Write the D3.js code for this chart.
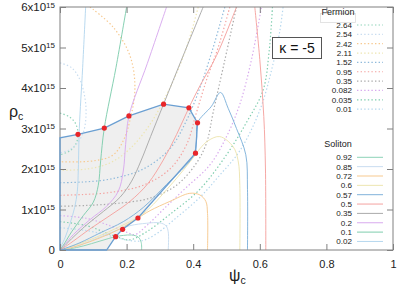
<!DOCTYPE html>
<html>
<head>
<meta charset="utf-8">
<style>
  body { margin: 0; background: #fff; }
  svg { display: block; font-family: "Liberation Sans", Arial, sans-serif; }
  .frame { fill: none; stroke: #808080; stroke-width: 1; }
  .axis path { display: none; }
  .axis line { stroke: #808080; }
  .axis text { fill: #222; }
  .key { font-size: 8.1px; fill: #222; }
</style>
</head>
<body>
<svg width="399" height="287"></svg>
<script src="https://cdn.jsdelivr.net/npm/d3@7"></script>
<script>
// rho values in units of 1e15
var xTicks = [0, 0.2, 0.4, 0.6, 0.8, 1];
var xTickLabels = ["0", "0.2", "0.4", "0.6", "0.8", "1"];
var yTicks = [0, 1, 2, 3, 4, 5, 6];

var palette = ["#8dd3b7", "#c9ddf0", "#f7c98f", "#ede5b0", "#8fbadb",
               "#f4a3a0", "#aaaaaa", "#d8aaee", "#7fcdae", "#b5d7ee"];

var fermionLabels = ["2.64", "2.54", "2.42", "2.11", "1.52", "0.95", "0.35", "0.082", "0.035", "0.01"];
var solitonLabels = ["0.92", "0.85", "0.72", "0.6", "0.57", "0.5", "0.35", "0.2", "0.1", "0.02"];

// fermion curves [psi, rho]
var f264 = [[0,3.38],[0.03,3.28],[0.048,3.1],[0.054,2.86],[0.048,2.62],[0.03,2.45],[0,2.35]];
var f254 = [[0,4.62],[0.035,4.5],[0.06,4.2],[0.075,3.75],[0.078,3.3],[0.07,2.9],[0.05,2.62],[0.025,2.46],[0,2.4]];
var f242 = [[0.09,6],[0.16,5.5],[0.21,4.8],[0.225,4.0],[0.21,3.2],[0.19,2.7],[0.16,2.35],[0.1,2.2],[0,2.18]];
var f211 = [[0.415,6],[0.38,5],[0.33,4],[0.27,3.1],[0.21,2.5],[0.15,2.15],[0.08,2.0],[0,1.97]];
var f152 = [[0.495,6],[0.46,5],[0.42,4],[0.38,3.2],[0.33,2.5],[0.25,2.0],[0.15,1.75],[0.07,1.68],[0,1.66]];
var f095 = [[0.51,6],[0.475,5],[0.44,4.2],[0.41,3.4],[0.38,2.6],[0.33,2.0],[0.25,1.6],[0.15,1.42],[0.07,1.37],[0,1.35]];
var f035 = [[0.53,6],[0.495,4.69],[0.46,3.4],[0.44,2.64],[0.41,2.15],[0.35,1.6],[0.27,1.28],[0.17,1.15],[0.08,1.1],[0,1.08]];
var f0082 = [[0,0.85],[0.08,0.78],[0.15,0.6],[0.2,0.44],[0.225,0.38],[0.26,0.6],[0.32,1.08],[0.38,1.55],[0.45,2.1],[0.5,2.8],[0.54,3.6],[0.575,4.7],[0.605,6]];
var f0035 = [[0,0.7],[0.08,0.6],[0.14,0.42],[0.18,0.3],[0.21,0.25],[0.26,0.45],[0.33,0.88],[0.42,1.5],[0.5,2.35],[0.56,3.15],[0.61,3.95],[0.628,4.9],[0.638,6]];
var f001 = [[0,0.55],[0.08,0.48],[0.15,0.35],[0.2,0.25],[0.24,0.22],[0.28,0.35],[0.35,0.8],[0.42,1.3],[0.48,1.85],[0.54,2.45],[0.6,3.45],[0.64,4.6],[0.66,5.4],[0.67,6]];

// soliton curves [psi, rho], null = break
var s092 = [[0.245,0],[0.244,0.18],[0.235,0.32],[0.215,0.37],[0.19,0.36],[0.167,0.33],[0.12,0.22],[0.07,0.1],[0.03,0.03],[0,0]];
var s085 = [[0.325,0],[0.325,0.45],[0.318,0.6],[0.3,0.67],[0.26,0.66],[0.21,0.6],[0.15,0.42],[0.09,0.22],[0.04,0.07],[0,0]];
var s072 = [[0.443,0],[0.443,0.9],[0.438,1.2],[0.42,1.36],[0.39,1.4],[0.33,1.2],[0.27,0.97],[0.234,0.79],[0.18,0.52],[0.12,0.3],[0.06,0.12],[0.015,0.02],[0,0]];
var s06 = [[0.54,0],[0.54,1.6],[0.535,2.2],[0.52,2.55],[0.48,2.8],[0.445,2.7],[0.42,2.5],[0.405,2.33],[0.33,1.58],[0.25,0.9],[0.18,0.58],[0.11,0.32],[0.05,0.13],[0.01,0.02],[0,0]];
var s057 = [[0.563,0],[0.563,1.5],[0.558,2.35],[0.53,3.0],[0.505,3.5],[0.482,3.89],[0.455,3.55],[0.413,3.14],[0.41,2.7],[0.4,2.32],[0.32,1.62],[0.25,1.05],[0.19,0.7],[0.12,0.42],[0.06,0.18],[0.015,0.04],[0,0.01]];
var s05 = [[0.53,6],[0.47,4.8],[0.42,4.05],[0.387,3.51],[0.35,2.85],[0.31,2.22],[0.265,1.65],[0.21,1.2],[0.15,0.85],[0.09,0.52],[0.04,0.22],[0.01,0.05],[0,0.01],
           null, [0.585,6],[0.6,4.7],[0.612,3.3],[0.617,2.0],[0.618,0]];
var s035 = [[0.43,6],[0.37,4.8],[0.311,3.6],[0.272,2.8],[0.243,2.2],[0.215,1.7],[0.18,1.3],[0.13,0.95],[0.08,0.62],[0.035,0.28],[0.01,0.07],[0,0.01]];
var s02 = [[0.32,6],[0.262,4.6],[0.207,3.31],[0.197,2.6],[0.19,1.95],[0.175,1.45],[0.14,1.08],[0.09,0.75],[0.04,0.38],[0.01,0.1],[0,0.02]];
var s01 = [[0.2,6],[0.168,4.5],[0.133,3.01],[0.122,2.2],[0.115,1.6],[0.1,1.18],[0.07,0.85],[0.035,0.45],[0.01,0.12],[0,0.02]];
var s002 = [[0.077,6],[0.068,4.5],[0.058,3.0],[0.055,2.0],[0.052,1.45],[0.044,1.05],[0.03,0.65],[0.015,0.3],[0,0.04]];

// stable region boundary and marked points
var boundary = [[0,0],[0,2.77],[0.054,2.857],[0.133,3.01],[0.207,3.31],[0.311,3.60],[0.387,3.51],
                [0.413,3.14],[0.407,2.39],[0.234,0.79],[0.188,0.51],[0.167,0.33],[0.14,0]];
var marks = [[0.054,2.857],[0.133,3.01],[0.207,3.31],[0.311,3.60],[0.387,3.51],
             [0.413,3.14],[0.407,2.39],[0.234,0.79],[0.188,0.51],[0.167,0.33]];

var fermions = [f264, f254, f242, f211, f152, f095, f035, f0082, f0035, f001];
var solitons = [s092, s085, s072, s06, s057, s05, s035, s02, s01, s002];

var svg = d3.select("svg");
var x = d3.scaleLinear().domain([0, 1]).range([60, 393]);
var y = d3.scaleLinear().domain([0, 6]).range([250, 7]);

svg.append("clipPath").attr("id", "clip")
    .append("rect").attr("x", 60).attr("y", 7).attr("width", 333).attr("height", 243);

var plot = svg.append("g").attr("clip-path", "url(#clip)");

var line = d3.line()
    .defined(function (d) { return d; })
    .x(function (d) { return x(d[0]); })
    .y(function (d) { return y(d[1]); })
    .curve(d3.curveCatmullRom.alpha(0.5));
var straight = d3.line().x(function (d) { return x(d[0]); }).y(function (d) { return y(d[1]); });

// shaded region
plot.append("path")
    .attr("d", straight(boundary) + "Z")
    .attr("fill", "#efefef");

// frame
svg.append("rect").attr("class", "frame")
    .attr("x", 60).attr("y", 7).attr("width", 333).attr("height", 243);

plot.selectAll("path.fermion")
    .data(fermions)
    .enter().append("path")
    .attr("class", "fermion")
    .attr("d", line)
    .attr("fill", "none")
    .attr("stroke", function (d, i) { return palette[i]; })
    .attr("stroke-width", 1.2)
    .attr("stroke-dasharray", "1.4 2.2");

plot.selectAll("path.soliton")
    .data(solitons)
    .enter().append("path")
    .attr("class", "soliton")
    .attr("d", line)
    .attr("fill", "none")
    .attr("stroke", function (d, i) { return i === 4 ? "#80b2da" : palette[i]; })
    .attr("stroke-width", 0.95);

svg.append("path")
    .attr("d", straight(boundary) + "Z")
    .attr("fill", "none")
    .attr("stroke", "#6a9fd2")
    .attr("stroke-width", 1.3);

svg.selectAll("circle.mark")
    .data(marks)
    .enter().append("circle")
    .attr("class", "mark")
    .attr("cx", function (d) { return x(d[0]); })
    .attr("cy", function (d) { return y(d[1]); })
    .attr("r", 2.6)
    .attr("fill", "#e8262a");

// axes
svg.append("g").attr("class", "axis")
    .attr("transform", "translate(0,250)")
    .call(d3.axisBottom(x).tickValues(xTicks).tickSize(-6).tickPadding(10)
        .tickFormat(function (d, i) { return xTickLabels[i]; }))
    .selectAll("text").style("font-size", "11px");

svg.append("g").attr("class", "axis")
    .attr("transform", "translate(0,7)")
    .call(d3.axisTop(x).tickValues(xTicks).tickSize(-6).tickFormat(""));

var yAxis = svg.append("g").attr("class", "axis")
    .attr("transform", "translate(60,0)")
    .call(d3.axisLeft(y).tickValues(yTicks).tickSize(-6).tickPadding(5).tickFormat(""));
yAxis.selectAll(".tick text").each(function (d) {
    var t = d3.select(this).style("font-size", "11.5px");
    if (d === 0) { t.text("0"); return; }
    t.append("tspan").text(d + "x10");
    t.append("tspan").attr("dy", "-0.45em").style("font-size", "8px").text("15");
});

svg.append("g").attr("class", "axis")
    .attr("transform", "translate(393,0)")
    .call(d3.axisRight(y).tickValues(yTicks).tickSize(-6).tickFormat(""));

// axis titles
var yt = svg.append("text").attr("x", 9).attr("y", 117).style("font-size", "16px").attr("fill", "#222");
yt.append("tspan").text("ρ");
yt.append("tspan").attr("dy", 3).style("font-size", "10.5px").text("c");

var xt = svg.append("text").attr("x", 229).attr("y", 281).style("font-size", "16px").attr("fill", "#222");
xt.append("tspan").text("ψ");
xt.append("tspan").attr("dy", 3).style("font-size", "10.5px").text("c");

// kappa box
svg.append("rect").attr("x", 272.5).attr("y", 37.5).attr("width", 49).attr("height", 21)
    .attr("fill", "#fff").attr("stroke", "#555").attr("stroke-width", 1);
svg.append("text").attr("x", 297).attr("y", 53).attr("text-anchor", "middle")
    .style("font-size", "14px").attr("fill", "#111").text("κ = -5");

// legends
function drawKey(title, labels, top, dashed, boxed) {
    var g = svg.append("g").attr("class", "key");
    if (boxed) {
        g.append("rect").attr("x", 320.5).attr("y", 13.5).attr("width", 35).attr("height", 9)
            .attr("fill", "#fff").attr("stroke", "#ddd").attr("stroke-width", 0.8);
    }
    g.append("text").attr("x", 338).attr("y", top - 5.5).attr("text-anchor", "middle")
        .style("font-size", "9px").text(title);
    labels.forEach(function (lab, i) {
        var cy = top + 4.5 + i * 9.35;
        g.append("text").attr("x", 352).attr("y", cy + 3).attr("text-anchor", "end").text(lab);
        g.append("line").attr("x1", 357).attr("x2", 383).attr("y1", cy).attr("y2", cy)
            .attr("stroke", (!dashed && i === 4) ? "#80b2da" : palette[i])
            .attr("stroke-width", dashed ? 1.2 : 1)
            .attr("stroke-dasharray", dashed ? "1.4 2.2" : null);
    });
}
drawKey("Fermion", fermionLabels, 20.5, true, true);
drawKey("Soliton", solitonLabels, 152.8, false, false);
</script>
</body>
</html>
